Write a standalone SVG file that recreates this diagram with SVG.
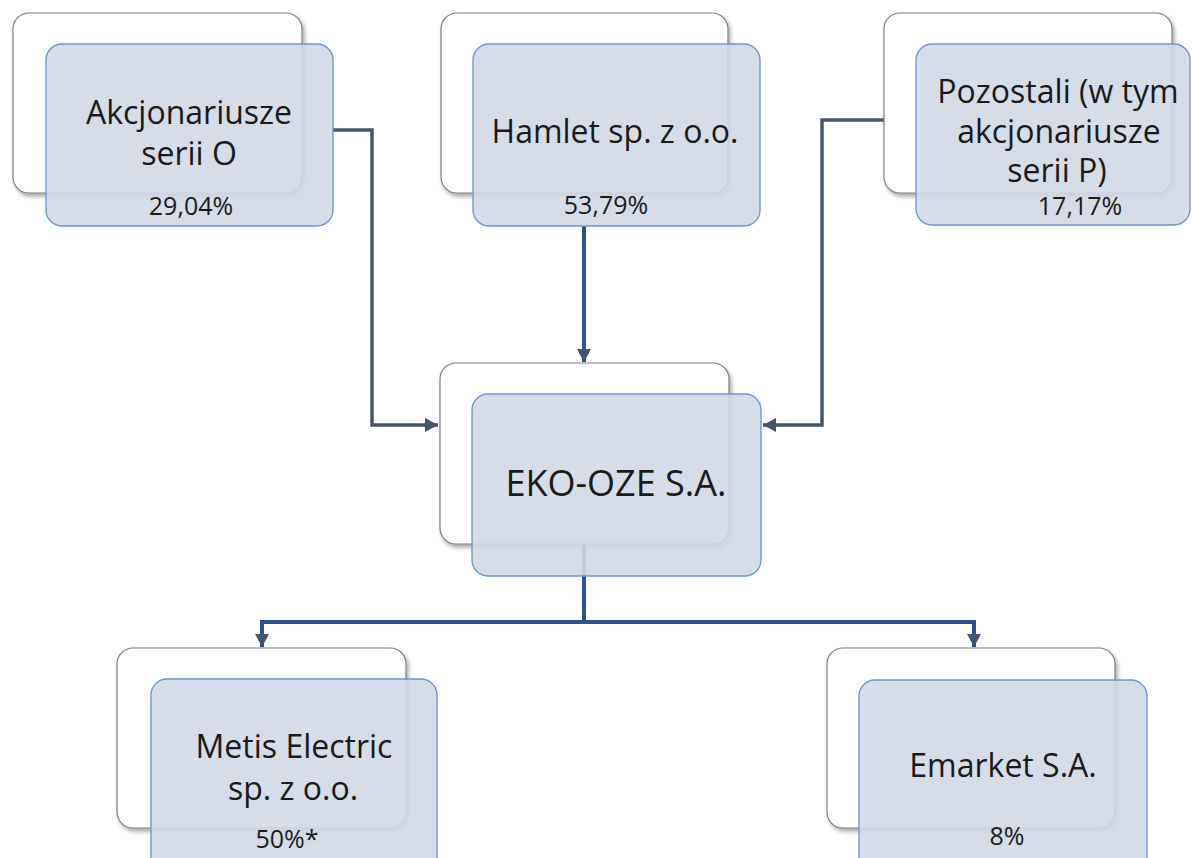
<svg xmlns="http://www.w3.org/2000/svg" width="1192" height="858" viewBox="0 0 1192 858">
<style>
.back{fill:#ffffff;stroke:#7f7f7f;stroke-width:1.2;filter:url(#sh)}
.front{fill:#d2d9e7;fill-opacity:0.9;stroke:#6b95cb;stroke-width:1.3}
.t{font-family:"Open Sans","Noto Sans","Liberation Sans",sans-serif;fill:#1a1a1a;text-anchor:middle}
.big{font-size:32px}
.pct{font-size:25px}
.c1{fill:none;stroke:#44546a;stroke-width:3.5}
.c2{fill:none;stroke:#2f5391;stroke-width:4}
</style>
<defs>
<filter id="sh" x="-10%" y="-10%" width="130%" height="130%">
<feDropShadow dx="2" dy="3" stdDeviation="2" flood-color="#000" flood-opacity="0.35"/>
</filter>
<marker id="a1" markerUnits="userSpaceOnUse" markerWidth="16" markerHeight="16" refX="13" refY="8" orient="auto">
<path d="M0,1 L13,8 L0,15 Z" fill="#44546a"/>
</marker>
</defs>
<rect width="1192" height="858" fill="#ffffff"/>
<g id="connectors">
<path class="c1" d="M333,130 H372 V425 H438" marker-end="url(#a1)"/>
<path class="c2" d="M584,226 V362" marker-end="url(#a1)"/>
<path class="c1" d="M884,120 H822 V425 H763" marker-end="url(#a1)"/>
<path class="c2" d="M584,544 V622"/>
<path class="c2" d="M584,622 H262 V647" marker-end="url(#a1)"/>
<path class="c2" d="M584,622 H974 V647" marker-end="url(#a1)"/>
</g>
<g id="node-akcjonariusze">
<rect class="back" x="13" y="13" width="289" height="180" rx="16"/>
<rect class="front" x="46" y="44" width="287" height="182" rx="16"/>
<text class="t big" x="189" y="124">Akcjonariusze</text>
<text class="t big" x="189" y="165">serii O</text>
<text class="t pct" x="191" y="215">29,04%</text>
</g>
<g id="node-hamlet">
<rect class="back" x="441" y="13" width="287" height="180" rx="16"/>
<rect class="front" x="473" y="44" width="287" height="182" rx="16"/>
<text class="t big" x="615" y="143">Hamlet sp. z o.o.</text>
<text class="t pct" x="606" y="214">53,79%</text>
</g>
<g id="node-pozostali">
<rect class="back" x="884" y="13" width="288" height="180" rx="16"/>
<rect class="front" x="916" y="44" width="274" height="181" rx="16"/>
<text class="t big" x="1058" y="103">Pozostali (w tym</text>
<text class="t big" x="1059" y="143">akcjonariusze</text>
<text class="t big" x="1057" y="182">serii P)</text>
<text class="t pct" x="1080" y="215">17,17%</text>
</g>
<g id="node-ekooze">
<rect class="back" x="440" y="363" width="289" height="181" rx="16"/>
<rect class="front" x="472" y="394" width="289" height="182" rx="16"/>
<text class="t" x="616" y="496" font-size="36">EKO-OZE S.A.</text>
</g>
<g id="node-metis">
<rect class="back" x="117" y="648" width="289" height="180" rx="16"/>
<rect class="front" x="151" y="679" width="286" height="195" rx="16"/>
<text class="t big" x="294" y="758">Metis Electric</text>
<text class="t big" x="293" y="800">sp. z o.o.</text>
<text class="t pct" x="287" y="848">50%*</text>
</g>
<g id="node-emarket">
<rect class="back" x="827" y="648" width="288" height="180" rx="16"/>
<rect class="front" x="859" y="680" width="288" height="195" rx="16"/>
<text class="t big" x="1003" y="777">Emarket S.A.</text>
<text class="t pct" x="1007" y="845">8%</text>
</g>
</svg>
